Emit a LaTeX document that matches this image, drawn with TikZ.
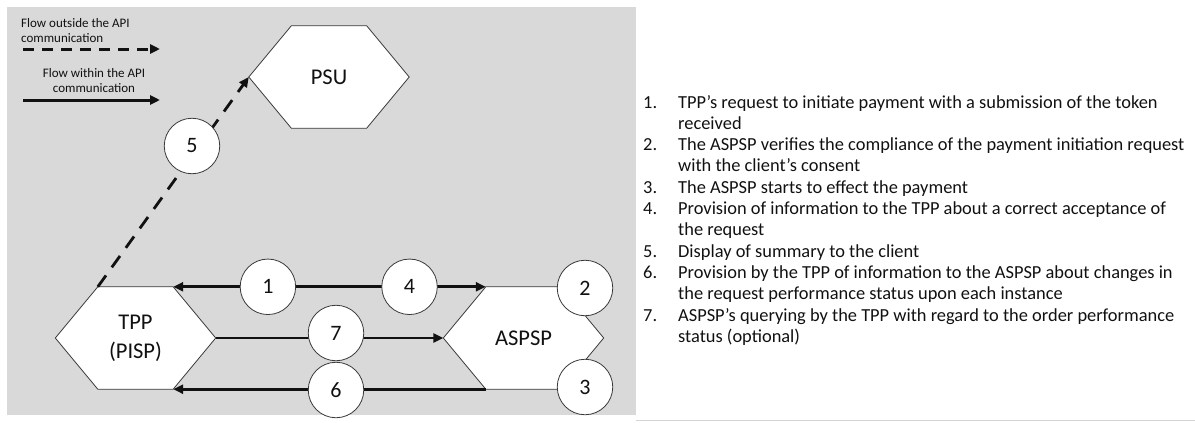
\documentclass[tikz,border=0pt]{standalone}
\usepackage{fontspec}
\setmainfont{Carlito}
\usetikzlibrary{arrows.meta,calc}
\pgfdeclarelayer{background}
\pgfsetlayers{background,main}

\definecolor{panelgray}{HTML}{D9D9D9}
\definecolor{edgegray}{HTML}{3A3A3A}
\definecolor{inkblack}{HTML}{111111}
\definecolor{rulegray}{HTML}{D4D4D4}

% outline of a hexagon around a node whose box is the flat middle part
\newcommand{\drawhexagon}[1]{%
  \coordinate (#1-e) at ([xshift=42.5pt]#1.east);
  \coordinate (#1-w) at ([xshift=-42.5pt]#1.west);
  \begin{pgfonlayer}{background}
    \filldraw[hexedge] (#1.north west) -- (#1.north east) -- (#1-e)
      -- (#1.south east) -- (#1.south west) -- (#1-w) -- cycle;
  \end{pgfonlayer}}

\begin{document}
\begin{tikzpicture}[x=1pt, y=-1pt,
  >={Triangle[length=10pt,width=9pt]},
  hexcore/.style={minimum width=75pt, minimum height=102pt, inner sep=0pt,
    align=center, text=inkblack,
    font=\fontsize{22.5}{29}\selectfont},
  hexedge/.style={draw=edgegray, fill=white, line width=0.8pt, line join=miter},
  num/.style={circle, draw=edgegray, fill=white, line width=0.8pt,
    minimum size=55.5pt, inner sep=0pt, text=inkblack,
    font=\fontsize{22}{26}\selectfont},
  apiflow/.style={draw=inkblack, line width=2.8pt},
  outflow/.style={draw=inkblack, line width=2.8pt, dash pattern=on 14pt off 10pt},
  legendflow/.style={draw=inkblack, line width=3pt},
  legendtext/.style={inner sep=0pt, text=inkblack,
    font=\fontsize{13}{15}\selectfont},
  listtext/.style={inner sep=0pt, text=inkblack, anchor=base west,
    font=\fontsize{18.4}{21.3}\selectfont}]

\useasboundingbox (0,0) rectangle (1195,423);

\begin{pgfonlayer}{background}
  \fill[panelgray] (7,7) rectangle (636,415);
  \draw[rulegray, line width=0.8pt] (636,420) -- (1195,420);
\end{pgfonlayer}

% legend
\node[legendtext, anchor=west, align=left] (legout) at (21,30.5)
  {Flow outside the API\\communication};
\coordinate (legoutA) at (23,49);
\coordinate (legoutB) at (160,49);
\draw[legendflow, dash pattern=on 11pt off 8pt, ->] (legoutA) -- (legoutB);

\node[legendtext, align=center] (legin) at (94,80.5)
  {Flow within the API\\communication};
\coordinate (leginA) at (23,100);
\coordinate (leginB) at (160,100);
\draw[legendflow, ->] (leginA) -- (leginB);

% parties
\node[hexcore] (psu) at (329,77) {PSU};
\drawhexagon{psu}
\node[hexcore] (tpp) at (135.5,338) {TPP\\(PISP)};
\drawhexagon{tpp}
\node[hexcore] (aspsp) at (523.5,338) {ASPSP};
\drawhexagon{aspsp}

% flows
\draw[outflow, ->] (tpp.north west) -- (psu-w);
\node[num] (n5) at (192,146) {5};

\draw[apiflow, <->] (tpp.north east)
  -- node[num, pos=0.303] (n1) {1}
     node[num, pos=0.756] (n4) {4} (aspsp.north west);

\draw[apiflow, ->] (tpp-e) -- (aspsp-w);
\node[num] (n7) at (336,333) {7};

\draw[apiflow, ->] (aspsp.south west) -- (tpp.south east);
\node[num] (n6) at (336,390) {6};

\node[num] (n2) at (585,288) {2};
\node[num] (n3) at (585,387) {3};

% description of the steps
\node[listtext] (steps) at (643,108) {%
\begin{tabular}[t]{@{}p{35pt}@{}l@{}}
1. & TPP’s request to initiate payment with a submission of the token\\
   & received\\
2. & The ASPSP verifies the compliance of the payment initiation request\\
   & with the client’s consent\\
3. & The ASPSP starts to effect the payment\\
4. & Provision of information to the TPP about a correct acceptance of\\
   & the request\\
5. & Display of summary to the client\\
6. & Provision by the TPP of information to the ASPSP about changes in\\
   & the request performance status upon each instance\\
7. & ASPSP’s querying by the TPP with regard to the order performance\\
   & status (optional)
\end{tabular}};

\end{tikzpicture}
\end{document}
